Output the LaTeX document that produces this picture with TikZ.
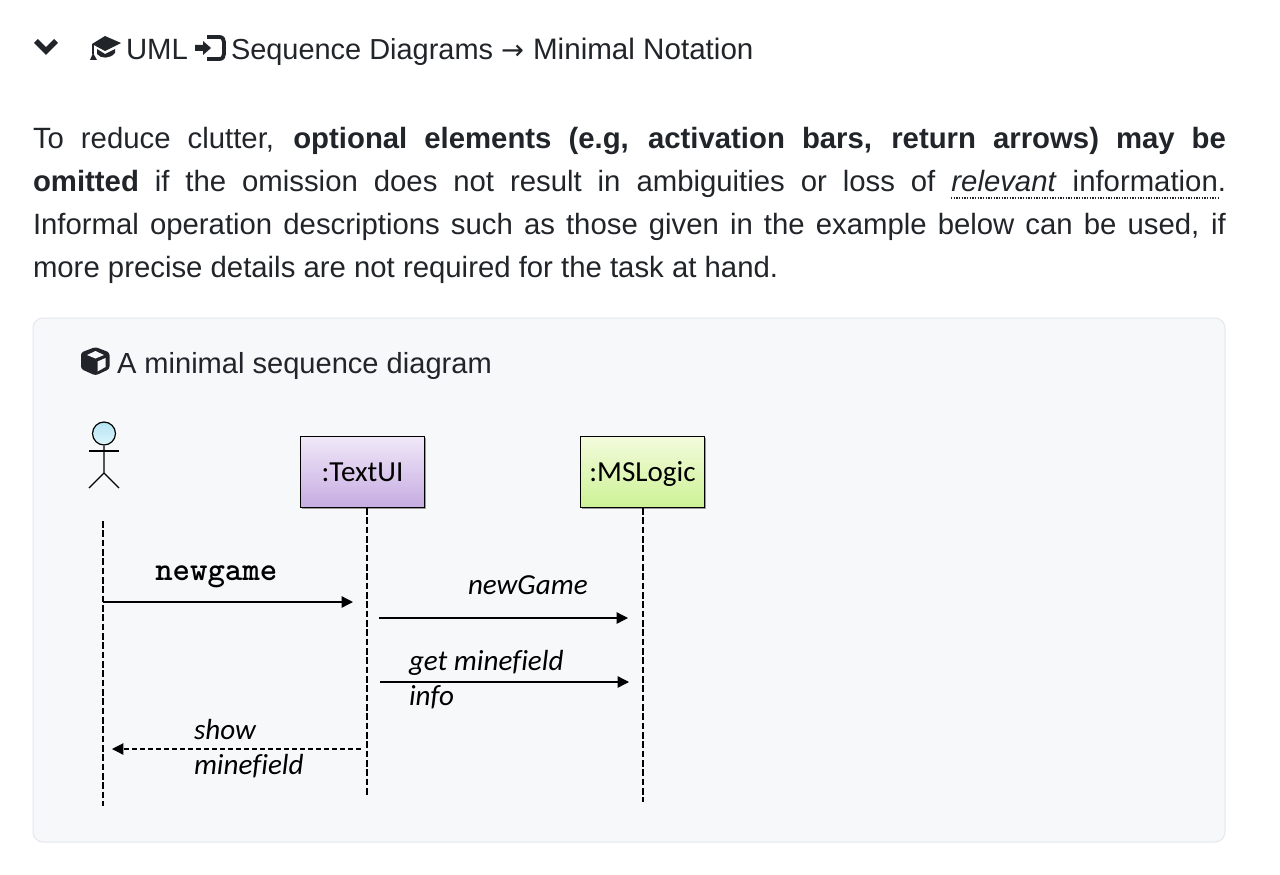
\documentclass[tikz,border=0pt]{standalone}
\usepackage{fontspec}
\setmainfont{Liberation Sans}
\newfontfamily\carlito[RawFeature=-liga]{Carlito}
\newfontfamily\dejavu{DejaVu Sans}
\usetikzlibrary{arrows.meta,shadows}
\definecolor{ink}{HTML}{212529}
\definecolor{panelfill}{HTML}{F6F8FA}
\definecolor{panelline}{HTML}{E4E8EE}
\definecolor{purpA}{HTML}{F0E8F8}
\definecolor{purpB}{HTML}{C6ACE2}
\definecolor{limeA}{HTML}{F3FBDC}
\definecolor{limeB}{HTML}{CDF296}
\definecolor{headA}{HTML}{B6E4F4}
\definecolor{headB}{HTML}{DDF6FC}
\tikzset{
  txt/.style={anchor=base west,inner sep=0pt,outer sep=0pt,text=ink,font=\fontsize{22pt}{26pt}\selectfont},
  lbl/.style={anchor=base west,inner sep=0pt,outer sep=0pt,text=black,font=\carlito\itshape\fontsize{21.8pt}{25pt}\selectfont},
  obj/.style={draw=black,line width=.75pt,minimum width=93pt,minimum height=53pt,inner sep=0pt,anchor=north west,font=\carlito\fontsize{21.8pt}{25pt}\selectfont,drop shadow={shadow xshift=1pt,shadow yshift=-1pt,fill=black!55,opacity=.7}},
  life/.style={draw=black,line width=1.6pt,dash pattern=on 5pt off 2pt},
  msg/.style={draw=black,line width=1pt,-{Triangle[length=8.5pt,width=8.5pt]}},
  rmsg/.style={msg,line width=.9pt,dash pattern=on 4pt off 2pt},
  fig/.style={draw=black,line width=.9pt},
}
\newcommand{\jline}[1]{\makebox[894.75pt][s]{#1}}
\begin{document}
\begin{tikzpicture}[x=.75pt,y=-.75pt]
\useasboundingbox[fill=white] (0,0) rectangle (1280,874);
% heading
\draw[ink,line width=4.2pt,line join=miter] (36,41) -- (46,51) -- (56,41);
\fill[ink] (105,36) -- (121,43) -- (105,51) -- (92,44) -- cycle;
\fill[ink] (97,49) -- (105,54) -- (115,49) -- (115,53) .. controls (110,59) and (101,59) .. (97,54) -- cycle;
\draw[ink,line width=1pt] (93,44) -- (93,54);
\fill[ink] (93,53) -- (97,60) -- (90,60) -- cycle;
\node[txt] (crumb1) at (126,60) {UML};
\fill[ink] (195,45) -- (203,45) -- (203,41) -- (211,48) -- (203,55) -- (203,51) -- (195,51) -- cycle;
\draw[ink,line width=2.9pt] (207,37) -- (219,37) .. controls (222.5,37) and (224,39) .. (224,42) -- (224,54) .. controls (224,57) and (222.5,59) .. (219,59) -- (207,59);
\node[txt,font=\fontsize{21.7pt}{26pt}\selectfont] (crumb2) at (231,60) {Sequence Diagrams {\dejavu\fontsize{20.5pt}{26pt}\selectfont →}\hspace{.7pt} {\fontsize{22.2pt}{26pt}\selectfont Minimal Notation}};
% body
\node[txt] (l1) at (33,148) {\jline{To reduce clutter, \textbf{optional elements (e.g, activation bars, return arrows) may be}}};
\node[txt] (l2) at (33,191) {\jline{\textbf{omitted} if the omission does not result in ambiguities or loss of \textit{relevant} information.}};
\node[txt] (l3) at (33,234) {\jline{Informal operation descriptions such as those given in the example below can be used, if}};
\node[txt] (l4) at (33,277) {more precise details are not required for the task at hand.};
\draw[ink,line width=.9pt,dash pattern=on .9pt off 1.1pt] (951,198) -- (1218,198);
% panel
\draw[panelline,fill=panelfill,line width=.75pt,rounded corners=7.5pt] (33,318) rectangle (1225,842);
\fill[ink,rounded corners=2pt] (95.5,347) -- (109.5,352.5) -- (109.5,369) -- (95.5,375.5) -- (81,369) -- (81,352.5) -- cycle;
\fill[panelfill] (87,355) -- (95.5,351) -- (104,355) -- (95.5,358.5) -- cycle;
\fill[panelfill] (97.5,361.5) -- (105.5,358) -- (105.5,367) -- (97.5,371.5) -- cycle;
\node[txt,font=\fontsize{21.8pt}{26pt}\selectfont] (title) at (117,373) {A minimal sequence diagram};
% actor
\node[circle,draw=black,line width=.9pt,minimum size=17.2pt,inner sep=0pt,top color=headA,bottom color=headB] (head) at (104,433.5) {};
\coordinate (hip) at (104,473);
\coordinate (armL) at (89,451); \coordinate (armR) at (119,451);
\coordinate (footL) at (89,488); \coordinate (footR) at (119,488);
\draw[fig] (head.south) -- (hip) -- (footL);
\draw[fig] (hip) -- (footR);
\draw[fig] (armL) -- (armR);
% objects
\node[obj,top color=purpA,bottom color=purpB,text depth=-3pt] (textui) at (300,436) {:TextUI};
\node[obj,top color=limeA,bottom color=limeB,text depth=-3pt] (mslogic) at (580,436) {:MSLogic};
% lifelines
\coordinate (aTop) at (103,521); \coordinate (aEnd) at (103,806);
\coordinate (tEnd) at (367,795); \coordinate (mEnd) at (643,802);
\coordinate (tTop) at (367,508); \coordinate (mTop) at (643,508);
\draw[life] (aTop) -- (aEnd);
\draw[life] (tTop) -- (tEnd);
\draw[life] (mTop) -- (mEnd);
% messages
\coordinate (m1a) at (103,602); \coordinate (m1b) at (353,602);
\coordinate (m2a) at (379,618); \coordinate (m2b) at (628,618);
\coordinate (m3a) at (380,682); \coordinate (m3b) at (629,682);
\coordinate (m4a) at (361,749); \coordinate (m4b) at (112,749);
\draw[msg] (m1a) -- (m1b);
\draw[msg] (m2a) -- (m2b);
\draw[msg] (m3a) -- (m3b);
\draw[rmsg] (m4a) -- (m4b);
\node[anchor=base west,inner sep=0pt,font=\ttfamily\bfseries\fontsize{24.9pt}{28pt}\selectfont] (lnew) at (155,580) {newgame};
\node[lbl] (lng) at (468,594) {newGame};
\node[lbl] (lget) at (409,670) {get minefield};
\node[lbl] (linfo) at (409,705) {info};
\node[lbl] (lshow) at (194,739) {show};
\node[lbl] (lmine) at (194,774) {minefield};
\end{tikzpicture}
\end{document}
